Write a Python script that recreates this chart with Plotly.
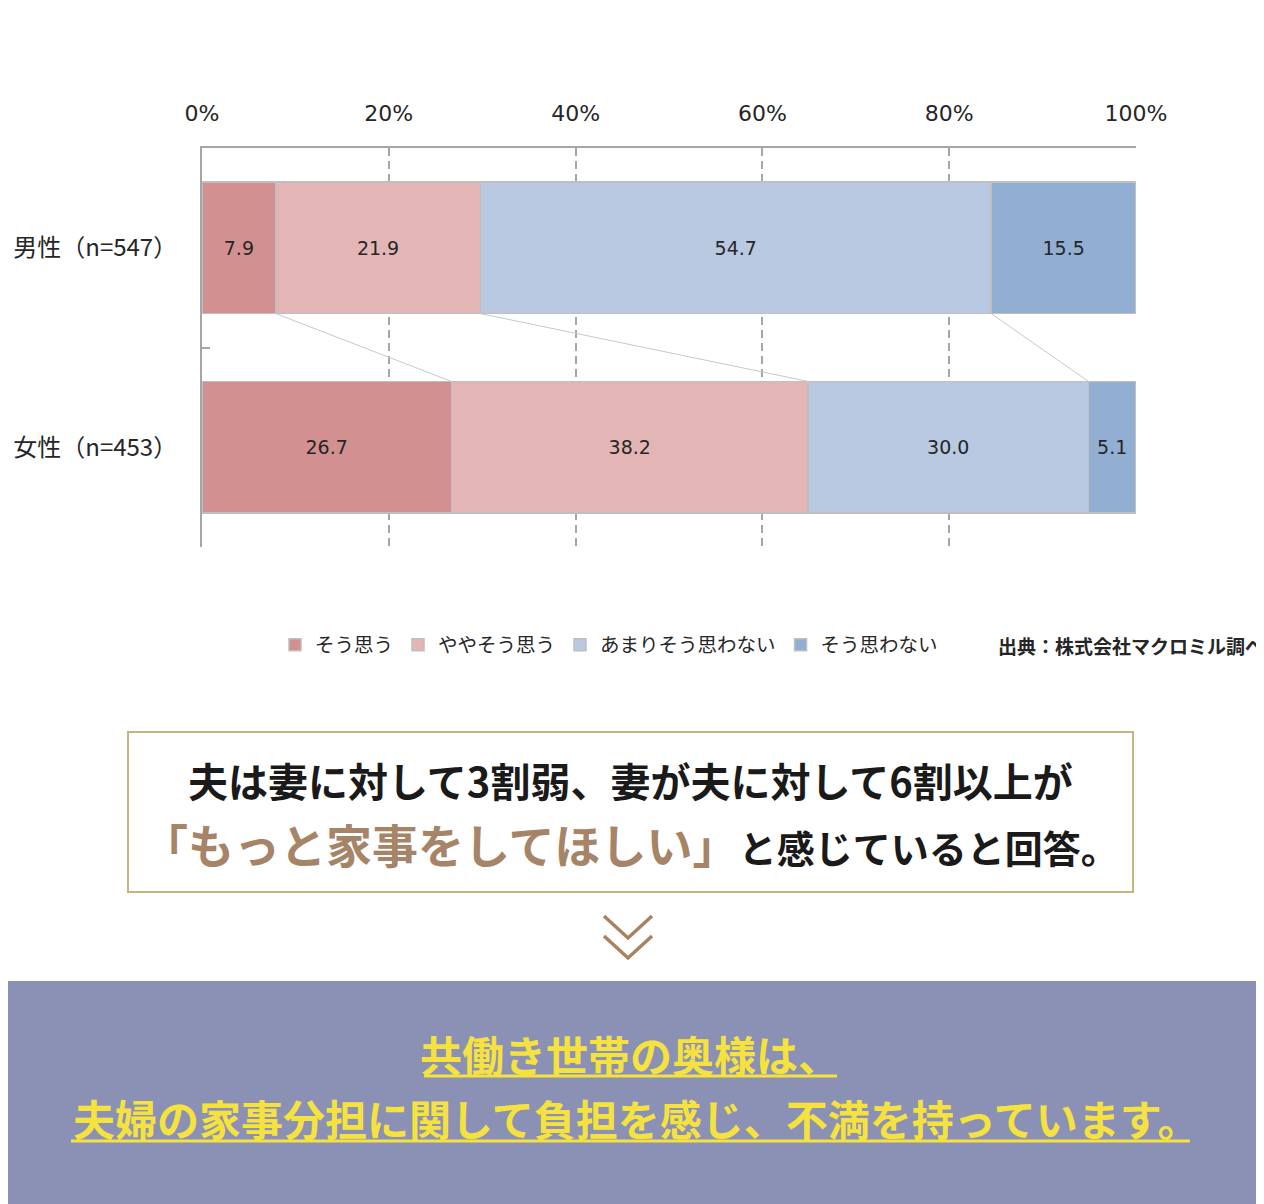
import plotly.graph_objects as go

# データ（%）
groups = ['男性（n=547）', '女性（n=453）']
answers = ['そう思う', 'ややそう思う', 'あまりそう思わない', 'そう思わない']
male = [7.9, 21.9, 54.7, 15.5]
female = [26.7, 38.2, 30.0, 5.1]
colors = ['#D29190', '#E3B5B5', '#B8C9E1', '#92AED3']

x_ticks = [0, 20, 40, 60, 80, 100]
x_ticktext = ['0%', '20%', '40%', '60%', '80%', '100%']

W, H = 1264, 1204
OFF = 8          # body margin of the page
BAR_W = 0.66
JP = 'Noto Sans CJK JP'


def px(v):
    return (v - OFF) / W


def py(v):
    return 1 - (v - OFF) / H


fig = go.Figure()
for i, name in enumerate(answers):
    fig.add_trace(go.Bar(
        y=groups, x=[male[i], female[i]], name=name, orientation='h',
        marker=dict(color=colors[i], line=dict(color='#BFBFBF', width=1.5)),
        width=BAR_W,
        texttemplate='%{x:.1f}', textposition='inside',
        insidetextanchor='middle', textangle=0, constraintext='none',
        textfont=dict(family='DejaVu Sans', size=19, color='#262626'),
        hoverinfo='name+x',
    ))

# 男性→女性の累積を結ぶ線
shapes = []
cm, cf = 0, 0
for i in range(len(answers) - 1):
    cm += male[i]
    cf += female[i]
    shapes.append(dict(type='line', xref='x', yref='y',
                       x0=cm, y0=0 + BAR_W / 2, x1=cf, y1=1 - BAR_W / 2,
                       line=dict(color='#C8C8C8', width=1)))

# 枠・背景
shapes.append(dict(type='rect', xref='paper', yref='paper', layer='below',
                   x0=px(128), x1=px(1133), y0=py(892), y1=py(732),
                   line=dict(color='#C9B47F', width=2), fillcolor='white'))
shapes.append(dict(type='rect', xref='paper', yref='paper', layer='below',
                   x0=0, x1=1, y0=0, y1=py(981),
                   line=dict(width=0), fillcolor='#8A91B4'))
# 下向き矢印
for top in (916, 936):
    shapes.append(dict(type='path', xref='paper', yref='paper',
                       path=f'M{px(604)},{py(top)} L{px(628)},{py(top + 22)} L{px(652)},{py(top)}',
                       line=dict(color='#A9835F', width=3.5)))
# 下線
shapes.append(dict(type='line', xref='paper', yref='paper',
                   x0=px(424), x1=px(837), y0=py(1076), y1=py(1076),
                   line=dict(color='#F6E23E', width=3)))
shapes.append(dict(type='line', xref='paper', yref='paper',
                   x0=px(71), x1=px(1190), y0=py(1141), y1=py(1141),
                   line=dict(color='#F6E23E', width=3)))

annotations = [
    dict(text='出典：株式会社マクロミル調べ', x=px(996), y=py(645),
         xref='paper', yref='paper', xanchor='left', yanchor='middle',
         showarrow=False, font=dict(family=JP, size=19, color='#262626', weight='bold')),
    dict(text='夫は妻に対して3割弱、妻が夫に対して6割以上が', x=px(630), y=py(780),
         xref='paper', yref='paper', xanchor='center', yanchor='middle',
         showarrow=False, font=dict(family=JP, size=40, color='#1A1A1A', weight='bold')),
    dict(text='<span style="color:#A68468;font-size:46px">「もっと家事をしてほしい」</span>'
              'と感じていると回答。',
         x=px(630), y=py(843), xref='paper', yref='paper',
         xanchor='center', yanchor='middle', showarrow=False,
         font=dict(family=JP, size=38, color='#1A1A1A', weight='bold')),
    dict(text='共働き世帯の奥様は、', x=px(630), y=py(1053),
         xref='paper', yref='paper', xanchor='center', yanchor='middle',
         showarrow=False, font=dict(family=JP, size=42, color='#F6E23E', weight='bold')),
    dict(text='夫婦の家事分担に関して負担を感じ、不満を持っています。', x=px(636), y=py(1117),
         xref='paper', yref='paper', xanchor='center', yanchor='middle',
         showarrow=False, font=dict(family=JP, size=42, color='#F6E23E', weight='bold')),
]

fig.update_layout(
    width=W, height=H, margin=dict(l=0, r=0, t=0, b=0, autoexpand=False),
    barmode='stack', bargap=0.34,
    paper_bgcolor='white', plot_bgcolor='white',
    shapes=shapes, annotations=annotations,
    legend=dict(orientation='h', x=px(275), y=py(645), xanchor='left', yanchor='middle',
                traceorder='normal', font=dict(family=JP, size=19.5, color='#262626'),
                itemclick=False, itemdoubleclick=False),
    xaxis=dict(domain=[px(202), px(1136)], range=[0, 100], side='top',
               tickvals=x_ticks, ticktext=x_ticktext, ticks='',
               tickfont=dict(family='DejaVu Sans', size=22, color='#262626'),
               showgrid=True, gridcolor='#A6A6A6', gridwidth=2, griddash='8px,5px',
               showline=True, linecolor='#A6A6A6', linewidth=2, automargin=False,
               zeroline=False, ticklabelstandoff=16, fixedrange=True),
    yaxis=dict(domain=[py(547), py(148)], range=[1.5, -0.5], type='category',
               ticks='inside', tickson='boundaries', ticklen=8,
               tickcolor='#A6A6A6', tickwidth=2, automargin=False,
               tickfont=dict(family=JP, size=24, color='#262626'),
               showgrid=False, showline=True, linecolor='#A6A6A6', linewidth=2,
               ticklabelstandoff=18, fixedrange=True),
)

fig.write_html("out.html")
